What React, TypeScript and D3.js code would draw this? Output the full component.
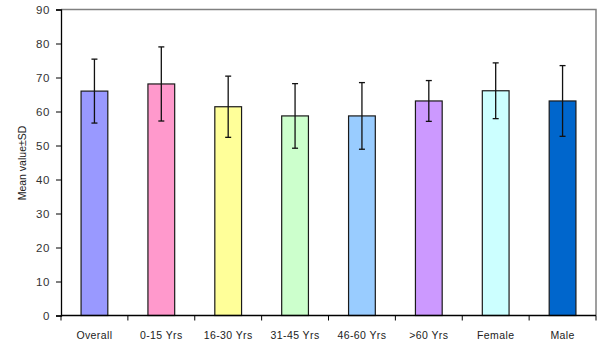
import { useRef, useEffect } from "react";
import * as d3 from "d3";

const categories = ["Overall", "0-15 Yrs", "16-30 Yrs", "31-45 Yrs", "46-60 Yrs", ">60 Yrs", "Female", "Male"];
const means = [66, 68.1, 61.4, 58.7, 58.7, 63.1, 66.1, 63.1];
const sds = [9.4, 10.9, 9.0, 9.5, 9.8, 6.0, 8.2, 10.4];
const colors = ["#9999FF", "#FF99CC", "#FFFF99", "#CCFFCC", "#99CCFF", "#CC99FF", "#CCFFFF", "#0066CC"];
const yTicks = [0, 10, 20, 30, 40, 50, 60, 70, 80, 90];

export default function App() {
  const ref = useRef<SVGSVGElement>(null);

  useEffect(() => {
    const svg = d3.select(ref.current);
    svg.selectAll("*").remove();

    const width = 600;
    const height = 359;
    const margin = { top: 9.5, right: 4, bottom: 43.5, left: 61 };

    const x = d3
      .scaleBand()
      .domain(categories)
      .range([margin.left, width - margin.right])
      .paddingInner(0.6)
      .paddingOuter(0.3);

    // band used only for tick positions between categories
    const step = (width - margin.right - margin.left) / categories.length;

    const y = d3
      .scaleLinear()
      .domain([0, 90])
      .range([height - margin.bottom, margin.top]);

    svg.attr("width", width).attr("height", height);
    svg.append("rect").attr("width", width).attr("height", height).attr("fill", "#fff");

    // plot area border (top and right)
    svg
      .append("path")
      .attr(
        "d",
        `M${margin.left},${y(90)}H${width - margin.right}V${y(0)}`
      )
      .attr("fill", "none")
      .attr("stroke", "#808080")
      .attr("stroke-width", 1.5);

    // bars
    const g = svg.append("g");
    g.selectAll("rect.bar")
      .data(categories)
      .join("rect")
      .attr("class", "bar")
      .attr("x", (d) => x(d)!)
      .attr("y", (_, i) => y(means[i]))
      .attr("width", x.bandwidth())
      .attr("height", (_, i) => y(0) - y(means[i]))
      .attr("fill", (_, i) => colors[i])
      .attr("stroke", "#1a1a1a")
      .attr("stroke-width", 1.2);

    // error bars
    const eb = svg.append("g").attr("stroke", "#111").attr("stroke-width", 1.3);
    categories.forEach((c, i) => {
      const cx = x(c)! + x.bandwidth() / 2;
      const hi = y(means[i] + sds[i]);
      const lo = y(means[i] - sds[i]);
      eb.append("line").attr("x1", cx).attr("x2", cx).attr("y1", hi).attr("y2", lo);
      eb.append("line").attr("x1", cx - 3).attr("x2", cx + 3).attr("y1", hi).attr("y2", hi);
      eb.append("line").attr("x1", cx - 3).attr("x2", cx + 3).attr("y1", lo).attr("y2", lo);
    });

    // y axis
    const yAxis = svg
      .append("g")
      .attr("transform", `translate(${margin.left},0)`)
      .call(d3.axisLeft(y).tickValues(yTicks).tickSize(5).tickPadding(6));
    yAxis.select(".domain").attr("stroke", "#000").attr("stroke-width", 1.3);
    yAxis.selectAll(".tick line").attr("stroke", "#000");
    yAxis
      .selectAll("text")
      .attr("font-family", "Liberation Sans, Arial, sans-serif")
      .attr("font-size", 11.5)
      .attr("letter-spacing", 0.6)
      .attr("fill", "#333");

    // x axis
    const xAxis = svg.append("g").attr("transform", `translate(0,${y(0)})`);
    xAxis
      .append("line")
      .attr("x1", margin.left)
      .attr("x2", width - margin.right)
      .attr("stroke", "#000")
      .attr("stroke-width", 1.3);
    d3.range(categories.length + 1).forEach((k) => {
      const tx = margin.left + k * step;
      xAxis.append("line").attr("x1", tx).attr("x2", tx).attr("y1", 0).attr("y2", 5).attr("stroke", "#000");
    });
    xAxis
      .selectAll("text")
      .data(categories)
      .join("text")
      .attr("x", (d) => x(d)! + x.bandwidth() / 2)
      .attr("y", 23)
      .attr("text-anchor", "middle")
      .attr("font-family", "Liberation Sans, Arial, sans-serif")
      .attr("font-size", 10.5)
      .attr("letter-spacing", 0.4)
      .attr("fill", "#222")
      .text((d) => d);

    // y axis title
    svg
      .append("text")
      .attr("transform", `translate(26,163) rotate(-90)`)
      .attr("text-anchor", "middle")
      .attr("font-family", "Liberation Sans, Arial, sans-serif")
      .attr("font-size", 10.5)
      .attr("fill", "#222")
      .text("Mean value±SD");
  }, []);

  return (
    <div style={{ position: "absolute", left: 0, top: 0 }}>
      <svg ref={ref} />
    </div>
  );
}
